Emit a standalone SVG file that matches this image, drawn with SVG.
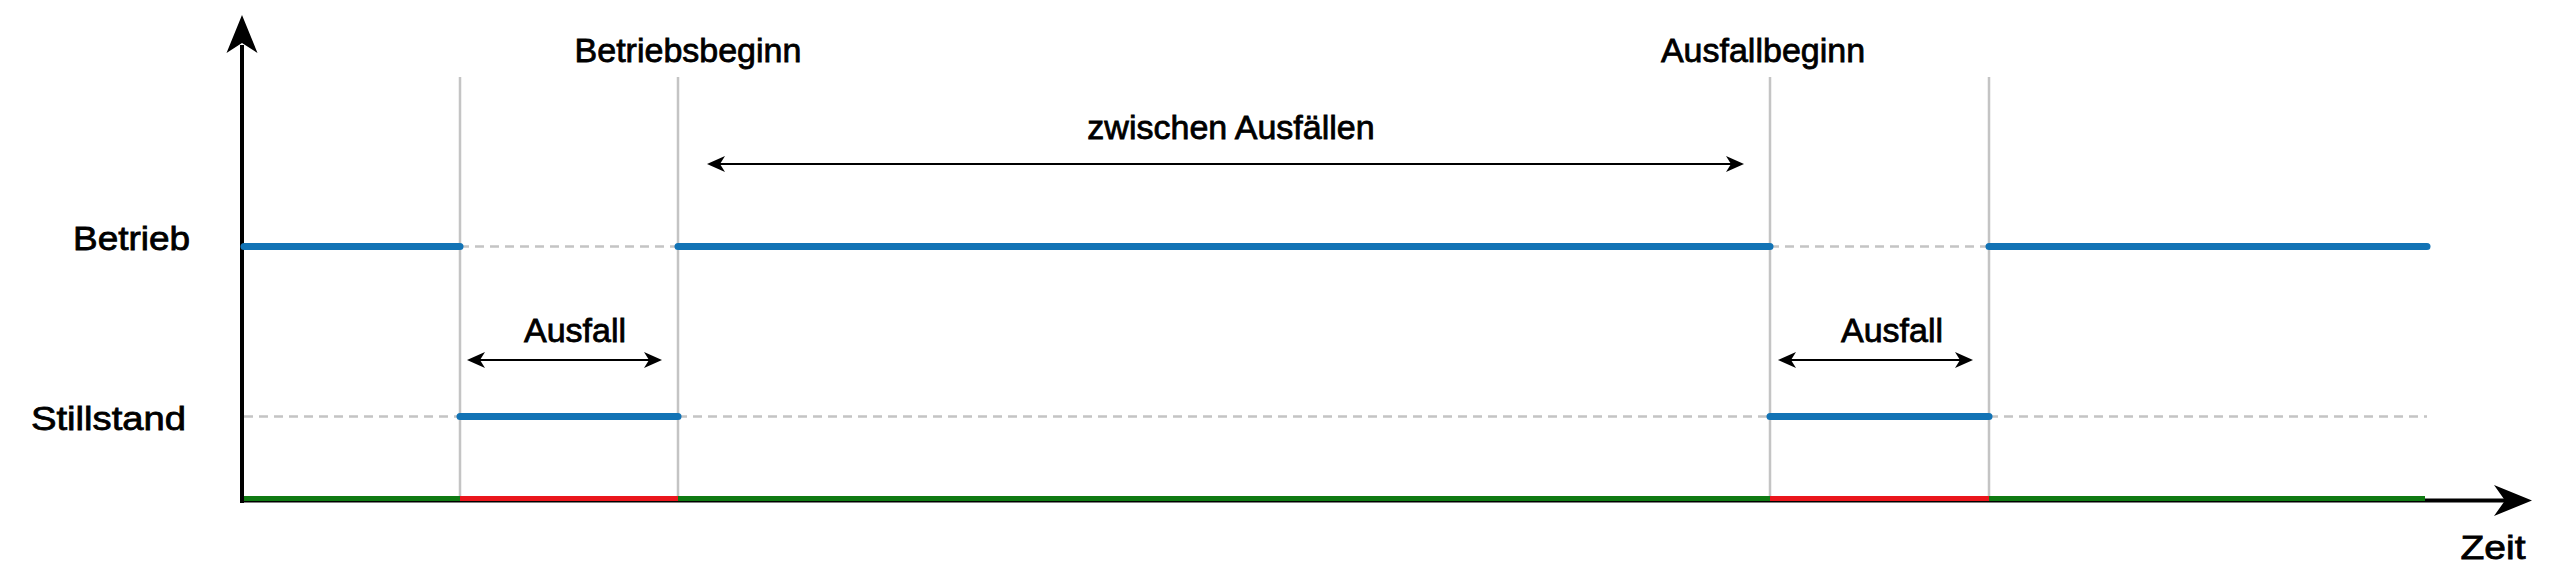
<svg xmlns="http://www.w3.org/2000/svg" width="2560" height="587" viewBox="0 0 2560 587">
<style>
text{font-family:"Liberation Sans",Arial,sans-serif;font-size:34px;fill:#000;stroke:#000;stroke-width:0.8px}
.grid{stroke:#c4c4c4;stroke-width:2.5;fill:none}
.dash{stroke:#c4c4c4;stroke-width:2.5;stroke-dasharray:9 6;fill:none}
.state{stroke:#1273b5;stroke-width:7;stroke-linecap:round;fill:none}
.ok{stroke:#0f7a12;stroke-width:5;fill:none}
.fail{stroke:#ea161c;stroke-width:5;fill:none}
.axis{stroke:#000;stroke-width:4;fill:none}
.dim{stroke:#000;stroke-width:2;fill:none;marker-start:url(#ah);marker-end:url(#ah)}
</style>
<defs>
<marker id="ah" viewBox="0 0 18 16" refX="14" refY="8" markerWidth="18" markerHeight="16" orient="auto-start-reverse" markerUnits="userSpaceOnUse">
<path d="M18,8 L0,0 L5,8 L0,16 Z" fill="#000"/>
</marker>
</defs>
<rect width="2560" height="587" fill="#fff"/>

<g id="gridlines">
<line class="grid" x1="460" y1="77" x2="460" y2="499"/>
<line class="grid" x1="678" y1="77" x2="678" y2="499"/>
<line class="grid" x1="1770" y1="77" x2="1770" y2="499"/>
<line class="grid" x1="1989" y1="77" x2="1989" y2="499"/>
<line class="dash" x1="460" y1="246.5" x2="678" y2="246.5"/>
<line class="dash" x1="1770" y1="246.5" x2="1989" y2="246.5"/>
<line class="dash" x1="244" y1="416.5" x2="460" y2="416.5"/>
<line class="dash" x1="678" y1="416.5" x2="1770" y2="416.5"/>
<line class="dash" x1="1989" y1="416.5" x2="2427" y2="416.5"/>
</g>

<g id="axes">
<line class="axis" x1="242" y1="503" x2="242" y2="45"/>
<path d="M242,15 L226.5,53 L242,43 L257.5,53 Z" fill="#000"/>
<line class="axis" x1="240" y1="500.5" x2="2505" y2="500.5"/>
<path d="M2532,500.5 L2494,485 L2505,500.5 L2494,516 Z" fill="#000"/>
</g>

<g id="state-line">
<line class="state" x1="244" y1="246.5" x2="460" y2="246.5"/>
<line class="state" x1="460" y1="416.5" x2="678" y2="416.5"/>
<line class="state" x1="678" y1="246.5" x2="1770" y2="246.5"/>
<line class="state" x1="1770" y1="416.5" x2="1989" y2="416.5"/>
<line class="state" x1="1989" y1="246.5" x2="2427" y2="246.5"/>
</g>

<g id="availability-bar">
<line class="ok" x1="244" y1="498.5" x2="460" y2="498.5"/>
<line class="fail" x1="460" y1="498.5" x2="678" y2="498.5"/>
<line class="ok" x1="678" y1="498.5" x2="1770" y2="498.5"/>
<line class="fail" x1="1770" y1="498.5" x2="1989" y2="498.5"/>
<line class="ok" x1="1989" y1="498.5" x2="2425" y2="498.5"/>
</g>

<g id="connectors">
<line class="dim" x1="471" y1="360" x2="658" y2="360"/>
<line class="dim" x1="711" y1="164" x2="1740" y2="164"/>
<line class="dim" x1="1782" y1="360" x2="1969" y2="360"/>
</g>

<g id="labels">
<text x="190" y="250" text-anchor="end" textLength="117" lengthAdjust="spacingAndGlyphs">Betrieb</text>
<text x="186" y="430" text-anchor="end" textLength="155" lengthAdjust="spacingAndGlyphs">Stillstand</text>
<text x="688" y="62" text-anchor="middle">Betriebsbeginn</text>
<text x="1763" y="62" text-anchor="middle">Ausfallbeginn</text>
<text x="1231" y="139" text-anchor="middle">zwischen Ausfällen</text>
<text x="575" y="342" text-anchor="middle">Ausfall</text>
<text x="1892" y="342" text-anchor="middle">Ausfall</text>
<text x="2493" y="559" text-anchor="middle" textLength="65" lengthAdjust="spacingAndGlyphs">Zeit</text>
</g>
</svg>
